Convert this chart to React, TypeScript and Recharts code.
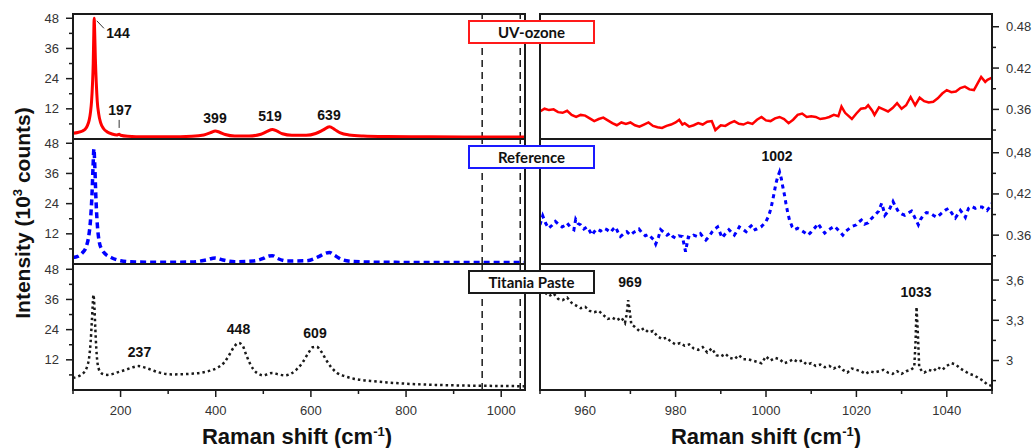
import { LineChart, Line, XAxis, YAxis, ReferenceLine } from "recharts";

// ---------------------------------------------------------------------------
// Spectra: [Raman shift (cm-1), intensity]
// full range in 10^3 counts, 950-1050 window in the same units rescaled
// ---------------------------------------------------------------------------

type Pair = [number, number];

const uvOzoneFull: Pair[] = [
  [100, 2.3], [110, 2.6], [120, 3.2], [126, 4.0], [130, 5.2], [134, 7.5], [137, 11],
  [139, 15], [141, 22], [142.5, 30], [143.5, 40], [144.5, 48], [145.5, 43], [147, 32],
  [149, 22], [151, 15], [154, 10], [158, 6.5], [164, 4.2], [172, 2.8], [182, 2.0],
  [192, 1.6], [197, 1.9], [200, 1.5], [215, 1.1], [250, 0.9], [300, 0.9], [350, 1.1],
  [375, 1.6], [390, 2.6], [399, 3.2], [408, 2.7], [420, 1.8], [440, 1.2], [470, 1.2],
  [495, 1.9], [508, 3.0], [519, 3.8], [528, 3.2], [540, 2.1], [560, 1.5], [590, 1.5],
  [610, 2.2], [625, 3.5], [639, 4.9], [650, 3.8], [662, 2.4], [680, 1.6], [710, 1.2],
  [760, 1.0], [850, 0.9], [950, 0.8], [1050, 0.8],
];

const referenceFull: Pair[] = [
  [100, 2.6], [110, 3.0], [120, 4.5], [128, 7], [133, 11], [137, 18], [140, 28],
  [142, 38], [144, 45.8], [146, 38], [148, 27], [151, 16], [155, 9], [160, 6],
  [168, 4], [180, 2.6], [200, 1.3], [230, 0.8], [300, 0.7], [350, 0.8], [380, 1.6],
  [399, 2.4], [415, 1.6], [440, 0.9], [480, 1.2], [500, 2.2], [512, 3.2], [519, 3.3],
  [530, 2.2], [550, 1.2], [590, 1.3], [615, 2.8], [630, 4.2], [639, 4.6], [650, 3.4],
  [665, 1.8], [690, 1.0], [750, 0.7], [850, 0.6], [950, 0.6], [1050, 0.6],
];

const titaniaFull: Pair[] = [
  [100, 4.8], [108, 5.2], [116, 5.9], [124, 7.2], [130, 9.5], [134, 13], [137, 19],
  [139.5, 27], [141.5, 34], [143, 37.9], [145, 33], [147, 24], [149, 16.5], [151, 11.5],
  [154, 8.5], [158, 7], [165, 6.2], [172, 6.0], [182, 6.3], [195, 7.1], [210, 8.0],
  [225, 9.0], [237, 9.5], [250, 9.0], [265, 8.0], [280, 7.0], [295, 6.4], [310, 6.2],
  [330, 6.3], [350, 6.5], [370, 6.9], [390, 7.8], [405, 9.0], [418, 11.0], [428, 13.8],
  [438, 17.0], [448, 18.7], [456, 17.8], [464, 14], [472, 10.5], [480, 8.0], [490, 6.4],
  [500, 5.8], [510, 6.4], [519, 6.8], [530, 6.3], [545, 5.8], [558, 6.5], [570, 8.2],
  [582, 10.8], [594, 14.5], [604, 17.0], [612, 17.2], [622, 15.2], [632, 12], [642, 9.2],
  [655, 6.8], [671, 5.5], [690, 4.5], [710, 3.9], [730, 3.5], [760, 3.0], [801, 2.5],
  [850, 2.1], [887, 1.9], [950, 1.7], [1000, 1.6], [1050, 1.5],
];

const uvOzoneZoom: Pair[] = [
  [950, 0.357], [951, 0.361], [952, 0.359], [953, 0.36], [954, 0.356], [955, 0.355],
  [956, 0.358], [957, 0.352], [958, 0.349], [959, 0.352], [960, 0.351], [961, 0.347],
  [962, 0.343], [963, 0.346], [964, 0.348], [965, 0.344], [966, 0.34], [967, 0.337],
  [968, 0.341], [969, 0.339], [970, 0.341], [971, 0.337], [972, 0.335], [973, 0.338],
  [974, 0.341], [975, 0.336], [976, 0.334], [977, 0.333], [978, 0.336], [979, 0.338],
  [980, 0.341], [980.8, 0.345], [981.5, 0.338], [982, 0.34], [983, 0.335], [984, 0.337],
  [985, 0.34], [986, 0.338], [987, 0.342], [988, 0.343], [988.8, 0.33], [989.5, 0.334],
  [990, 0.337], [991, 0.336], [992, 0.34], [993, 0.343], [994, 0.339], [995, 0.338],
  [996, 0.341], [997, 0.339], [998, 0.345], [999, 0.349], [1000, 0.344], [1001, 0.343],
  [1002, 0.347], [1003, 0.349], [1004, 0.346], [1005, 0.34], [1006, 0.345], [1007, 0.352],
  [1008, 0.354], [1009, 0.349], [1010, 0.35], [1011, 0.349], [1012, 0.346], [1013, 0.347],
  [1014, 0.349], [1015, 0.352], [1016, 0.35], [1016.7, 0.364], [1017.5, 0.355],
  [1018, 0.352], [1019, 0.346], [1020, 0.354], [1021, 0.361], [1022, 0.362],
  [1022.6, 0.366], [1023.5, 0.358], [1024, 0.352], [1025, 0.363], [1026, 0.36],
  [1027, 0.357], [1028, 0.362], [1029, 0.369], [1030, 0.361], [1031, 0.366], [1032, 0.378],
  [1033, 0.366], [1034, 0.377], [1035, 0.372], [1036, 0.37], [1037, 0.371], [1038, 0.376],
  [1039, 0.383], [1040, 0.388], [1041, 0.385], [1042, 0.386], [1043, 0.391], [1044, 0.393],
  [1045, 0.389], [1046, 0.388], [1047, 0.4], [1047.6, 0.407], [1048.5, 0.4], [1049, 0.403],
  [1050, 0.406],
];

const referenceZoom: Pair[] = [
  [950, 0.375], [950.6, 0.388], [951.2, 0.378], [951.9, 0.37], [952.6, 0.374], [953.4, 0.38],
  [954.1, 0.376], [954.9, 0.372], [955.5, 0.374], [956, 0.3775], [956.8, 0.371], [957.5, 0.368],
  [957.9, 0.383], [958.4, 0.377], [959, 0.375], [959.7, 0.369], [960.4, 0.372], [961, 0.366],
  [961.5, 0.36], [962, 0.365], [962.6, 0.369], [963.4, 0.366], [964.1, 0.37], [964.8, 0.368],
  [965.6, 0.364], [966.2, 0.369], [966.7, 0.372], [967.2, 0.365], [967.8, 0.358], [968.5, 0.362],
  [969.2, 0.365], [970, 0.36], [970.7, 0.364], [971.3, 0.366], [971.9, 0.369], [972.6, 0.363],
  [973.3, 0.359], [974, 0.361], [974.6, 0.357], [975.2, 0.353], [975.6, 0.347], [976.2, 0.357],
  [976.7, 0.368], [977.4, 0.364], [978.1, 0.36], [978.8, 0.363], [979.4, 0.358], [980, 0.3556],
  [980.7, 0.359], [981.5, 0.358], [982.2, 0.336], [982.8, 0.357], [983.3, 0.356], [984, 0.36],
  [984.8, 0.358], [985.5, 0.362], [986.1, 0.357], [986.7, 0.353], [987.4, 0.358], [988.1, 0.365],
  [988.7, 0.369], [989.3, 0.372], [989.8, 0.364], [990.3, 0.356], [991, 0.362], [991.8, 0.368],
  [992.4, 0.364], [993, 0.36], [993.6, 0.366], [994.1, 0.372], [994.8, 0.369], [995.6, 0.365],
  [996.3, 0.371], [997, 0.375], [997.6, 0.368], [998.3, 0.37], [998.9, 0.372], [999.5, 0.376],
  [1000, 0.38], [1000.6, 0.388], [1001.1, 0.399], [1001.7, 0.418], [1002.2, 0.4355],
  [1002.6, 0.445], [1003, 0.452], [1003.4, 0.442], [1003.7, 0.431], [1004.1, 0.418],
  [1004.4, 0.4065], [1004.8, 0.393], [1005.2, 0.382], [1005.8, 0.372], [1006.3, 0.368],
  [1007, 0.37], [1007.8, 0.367], [1008.5, 0.364], [1009.3, 0.36], [1009.9, 0.364],
  [1010.4, 0.368], [1011, 0.372], [1011.5, 0.377], [1012.2, 0.37], [1013, 0.363],
  [1013.7, 0.367], [1014.4, 0.37], [1015.2, 0.373], [1015.9, 0.368], [1016.5, 0.364],
  [1017, 0.36], [1017.7, 0.366], [1018.5, 0.37], [1019.2, 0.373], [1020, 0.375],
  [1020.5, 0.379], [1021.1, 0.382], [1021.8, 0.376], [1022.6, 0.378], [1023.3, 0.384],
  [1024.1, 0.389], [1024.9, 0.395], [1025.6, 0.4065], [1026, 0.397], [1026.3, 0.389],
  [1027.2, 0.396], [1028.1, 0.409], [1028.7, 0.401], [1029.3, 0.394], [1030, 0.391],
  [1030.7, 0.389], [1031.4, 0.392], [1032.2, 0.395], [1032.9, 0.386], [1033.7, 0.375],
  [1034.2, 0.383], [1034.8, 0.389], [1035.5, 0.393], [1036.3, 0.392], [1037, 0.389],
  [1037.8, 0.386], [1038.5, 0.39], [1039.2, 0.394], [1039.8, 0.397], [1040.4, 0.399],
  [1041.1, 0.392], [1041.9, 0.385], [1042.5, 0.391], [1043, 0.396], [1043.6, 0.391],
  [1044.1, 0.386], [1044.8, 0.399], [1045.5, 0.402], [1046.3, 0.399], [1047, 0.401],
  [1047.8, 0.401], [1048.4, 0.398], [1048.9, 0.396], [1049.5, 0.401], [1050, 0.4065],
];

const titaniaZoom: Pair[] = [
  [950, 3.52], [951, 3.51], [952, 3.48], [953, 3.5], [954, 3.46], [955, 3.45], [956, 3.47],
  [957, 3.43], [958, 3.41], [959, 3.39], [960, 3.4], [961, 3.37], [962, 3.36], [963, 3.37],
  [964, 3.34], [965, 3.31], [966, 3.32], [967, 3.3], [968, 3.32], [968.8, 3.28], [969.2, 3.35],
  [969.5, 3.45], [969.8, 3.38], [970.2, 3.27], [971, 3.25], [972, 3.22], [973, 3.24],
  [974, 3.21], [975, 3.22], [976, 3.18], [977, 3.16], [978, 3.17], [979, 3.14], [980, 3.12],
  [981, 3.13], [982, 3.11], [983, 3.12], [984, 3.09], [985, 3.08], [986, 3.1], [987, 3.06],
  [988, 3.09], [989, 3.04], [990, 3.03], [991, 3.05], [992, 3.02], [993, 3.01], [994, 3.04],
  [995, 3.01], [996, 3.01], [997, 3.0], [998, 2.99], [999, 2.98], [1000, 3.03], [1001, 3.0],
  [1002, 3.02], [1003, 3.01], [1004, 2.98], [1005, 2.99], [1006, 3.01], [1007, 2.99],
  [1008, 3.0], [1009, 2.97], [1010, 2.98], [1011, 2.96], [1012, 2.97], [1013, 2.95],
  [1014, 2.96], [1015, 2.94], [1016, 2.96], [1017, 2.93], [1018, 2.91], [1019, 2.94],
  [1020, 2.93], [1021, 2.92], [1022, 2.9], [1023, 2.92], [1024, 2.91], [1025, 2.92],
  [1026, 2.93], [1027, 2.91], [1028, 2.9], [1029, 2.92], [1030, 2.9], [1031, 2.92],
  [1032, 2.93], [1032.8, 2.95], [1033.1, 3.15], [1033.3, 3.4], [1033.6, 3.2], [1033.9, 2.95],
  [1034.5, 2.92], [1035, 2.91], [1036, 2.93], [1037, 2.92], [1038, 2.95], [1039, 2.93],
  [1040, 2.96], [1041, 2.98], [1042, 2.97], [1043, 2.94], [1044, 2.92], [1045, 2.9],
  [1046, 2.89], [1047, 2.87], [1048, 2.85], [1049, 2.82], [1050, 2.81],
];

// axis ranges and ticks
const fullDomain: [number, number] = [100, 1050];
const zoomDomain: [number, number] = [950, 1050];
const fullBottomTicks = [100, 200, 300, 400, 500, 600, 700, 800, 900, 1000];
const fullLabelTicks = [200, 400, 600, 800, 1000];
const fullTopTicks = [300, 500, 600, 700, 800, 900, 1000];
const zoomBottomTicks = [950, 960, 970, 980, 990, 1000, 1010, 1020, 1030, 1040, 1050];
const zoomLabelTicks = [960, 980, 1000, 1020, 1040];
const zoomTopTicks = [960, 980, 1000, 1010, 1020, 1040];
const countTicks = [6, 12, 18, 24, 30, 36, 42, 48];
const countLabels: Record<string, string> = { "12": "12", "24": "24", "36": "36", "48": "48" };
const windowEdges = [960, 1040];

const uvZoomTicks = [0.33, 0.36, 0.39, 0.42, 0.45, 0.48];
const uvZoomLabels: Record<string, string> = { "0.36": "0.36", "0.42": "0.42", "0.48": "0.48" };
const refZoomTicks = [0.33, 0.36, 0.39, 0.42, 0.45, 0.48];
const refZoomLabels: Record<string, string> = { "0.36": "0.36", "0.42": "0,42", "0.48": "0,48" };
const titaniaZoomTicks = [2.85, 3, 3.15, 3.3, 3.45, 3.6];
const titaniaZoomLabels: Record<string, string> = { "3": "3", "3.3": "3,3", "3.6": "3,6" };

// ---------------------------------------------------------------------------
// Layout
// ---------------------------------------------------------------------------

const ROWS = [
  { top: 14, bottom: 139 },
  { top: 139, bottom: 264 },
  { top: 264, bottom: 390 },
];
const PAD = 12;
const AXIS_H = 40;
const INK = "#1a1a1a";
const TICK_FONT = "'Liberation Sans', Arial, sans-serif";

const yTick = (axisX: number, dir: number, labels: Record<string, string>) =>
  (props: any) => {
    const { y, payload } = props;
    const label = labels[String(payload.value)];
    const len = label !== undefined ? 7 : 4;
    return (
      <g>
        <line x1={axisX} x2={axisX + dir * len} y1={y} y2={y} stroke={INK} strokeWidth={1.5} />
        {label !== undefined && (
          <text
            x={axisX + dir * 14}
            y={y}
            dy={4.5}
            textAnchor={dir < 0 ? "end" : "start"}
            fontSize={13}
            fontFamily={TICK_FONT}
            fill="#333"
          >
            {label}
          </text>
        )}
      </g>
    );
  };

const bottomTick = (axisY: number, labelled: number[]) => (props: any) => {
  const { x, payload } = props;
  const major = labelled.includes(payload.value);
  return (
    <g>
      <line x1={x} x2={x} y1={axisY} y2={axisY + (major ? 7 : 4)} stroke={INK} strokeWidth={1.5} />
      {major && (
        <text x={x} y={axisY + 24.5} textAnchor="middle" fontSize={13} fontFamily={TICK_FONT} fill="#333">
          {payload.value}
        </text>
      )}
    </g>
  );
};

const topTick = (axisY: number) => (props: any) => {
  const { x } = props;
  return <line x1={x} x2={x} y1={axisY} y2={axisY + 6} stroke={INK} strokeWidth={1.5} />;
};

interface PanelProps {
  zoom?: boolean;
  row: number;
  data: Pair[];
  yDomain: [number, number];
  yTicks: number[];
  yLabels: Record<string, string>;
  stroke: string;
  strokeWidth: number;
  dash?: string;
  curve: "monotone" | "linear";
  segments?: [Pair, Pair][];
}

function Panel(p: PanelProps) {
  const r = ROWS[p.row];
  const h = r.bottom - r.top;
  const last = p.row === 2;
  const full = !p.zoom;
  const width = full ? 540 : 503;
  const axisX = full ? 73 : 462;
  const height = PAD + h + (last ? AXIS_H : PAD);
  const points = p.data.map(([x, y]) => ({ x, y }));
  const xDomain = full ? fullDomain : zoomDomain;

  return (
    <div style={{ position: "absolute", left: full ? 0 : 530, top: r.top - PAD }}>
      <LineChart
        width={width}
        height={height}
        data={points}
        margin={{ top: PAD, right: full ? 15 : 0, bottom: last ? 0 : PAD, left: full ? 0 : 10 }}
      >
        <XAxis
          type="number"
          dataKey="x"
          domain={xDomain}
          allowDataOverflow
          hide={!last}
          height={AXIS_H}
          ticks={full ? fullBottomTicks : zoomBottomTicks}
          interval={0}
          axisLine={false}
          tickLine={false}
          tick={bottomTick(PAD + h, full ? fullLabelTicks : zoomLabelTicks)}
        />
        {p.row === 0 && (
          <XAxis
            xAxisId="top"
            orientation="top"
            type="number"
            domain={xDomain}
            allowDataOverflow
            mirror
            ticks={full ? fullTopTicks : zoomTopTicks}
            interval={0}
            axisLine={false}
            tickLine={false}
            tick={topTick(PAD)}
          />
        )}
        <YAxis
          type="number"
          domain={p.yDomain}
          allowDataOverflow
          orientation={full ? "left" : "right"}
          width={full ? 73 : 41}
          ticks={p.yTicks}
          interval={0}
          axisLine={false}
          tickLine={false}
          tick={yTick(axisX, full ? -1 : 1, p.yLabels)}
        />
        {full &&
          windowEdges.map((x) => (
            <ReferenceLine key={x} x={x} stroke={INK} strokeWidth={1.5} strokeDasharray="7 5" />
          ))}
        {(p.segments ?? []).map((s, i) => (
          <ReferenceLine
            key={`seg-${i}`}
            segment={[{ x: s[0][0], y: s[0][1] }, { x: s[1][0], y: s[1][1] }]}
            stroke="#333"
            strokeWidth={1}
          />
        ))}
        <Line
          type={p.curve}
          dataKey="y"
          stroke={p.stroke}
          strokeWidth={p.strokeWidth}
          strokeDasharray={p.dash}
          dot={false}
          isAnimationActive={false}
        />
      </LineChart>
    </div>
  );
}

// ---------------------------------------------------------------------------
// Annotations
// ---------------------------------------------------------------------------

const peakLabels = [
  { text: "144", left: 118, top: 33 },
  { text: "197", left: 120, top: 110 },
  { text: "399", left: 215, top: 117.5 },
  { text: "519", left: 270, top: 116 },
  { text: "639", left: 329, top: 115 },
  { text: "1002", left: 777, top: 156 },
  { text: "237", left: 139.5, top: 351.5 },
  { text: "448", left: 238.5, top: 329 },
  { text: "609", left: 315, top: 332.5 },
  { text: "969", left: 630, top: 281.5 },
  { text: "1033", left: 916, top: 291.5 },
];

const sampleBoxes = [
  { text: "UV-ozone", top: 20, color: "#ff1a1a" },
  { text: "Reference", top: 145, color: "#1a1aff" },
  { text: "Titania Paste", top: 270, color: INK },
];

const abs = (left: number, top: number): React.CSSProperties => ({
  position: "absolute",
  left,
  top,
  transform: "translate(-50%, -50%)",
  whiteSpace: "nowrap",
});

export default function App() {
  return (
    <div
      style={{
        position: "absolute",
        left: 0,
        top: 0,
        width: 1033,
        height: 448,
        background: "#fff",
        overflow: "hidden",
        fontFamily: TICK_FONT,
      }}
    >
      <Panel
        row={0}
        data={uvOzoneFull}
        yDomain={[0, 49.7]}
        yTicks={countTicks}
        yLabels={countLabels}
        stroke="#ff0000"
        strokeWidth={3}
        curve="monotone"
        segments={[
          [[150, 47], [165, 44]],
          [[197, 7.6], [197, 4.4]],
        ]}
      />
      <Panel
        row={1}
        data={referenceFull}
        yDomain={[0, 49.7]}
        yTicks={countTicks}
        yLabels={countLabels}
        stroke="#0000ff"
        strokeWidth={3.5}
        dash="6 4"
        curve="monotone"
      />
      <Panel
        row={2}
        data={titaniaFull}
        yDomain={[0, 50.1]}
        yTicks={countTicks}
        yLabels={countLabels}
        stroke={INK}
        strokeWidth={2.5}
        dash="2.5 3"
        curve="monotone"
      />
      <Panel
        zoom
        row={0}
        data={uvOzoneZoom}
        yDomain={[0.317, 0.4985]}
        yTicks={uvZoomTicks}
        yLabels={uvZoomLabels}
        stroke="#ff0000"
        strokeWidth={2.5}
        curve="linear"
      />
      <Panel
        zoom
        row={1}
        data={referenceZoom}
        yDomain={[0.318, 0.5]}
        yTicks={refZoomTicks}
        yLabels={refZoomLabels}
        stroke="#0000ff"
        strokeWidth={3}
        dash="4 4"
        curve="linear"
      />
      <Panel
        zoom
        row={2}
        data={titaniaZoom}
        yDomain={[2.78, 3.72]}
        yTicks={titaniaZoomTicks}
        yLabels={titaniaZoomLabels}
        stroke={INK}
        strokeWidth={2.5}
        dash="2.5 3"
        curve="linear"
      />

      {/* panel frames */}
      {[72, 539].map((left) => (
        <div key={left}>
          <div
            style={{
              position: "absolute",
              left,
              top: 13,
              width: 454,
              height: 378,
              border: `2px solid ${INK}`,
              boxSizing: "border-box",
            }}
          />
          {[138, 263].map((top) => (
            <div
              key={top}
              style={{ position: "absolute", left, top, width: 454, height: 2, background: INK }}
            />
          ))}
        </div>
      ))}

      {peakLabels.map((l) => (
        <div key={l.text} style={{ ...abs(l.left, l.top), fontSize: 14, fontWeight: 700, color: "#111" }}>
          {l.text}
        </div>
      ))}

      {sampleBoxes.map((b) => (
        <div
          key={b.text}
          style={{
            position: "absolute",
            left: 468,
            top: b.top,
            width: 127,
            height: 24,
            border: `2px solid ${b.color}`,
            boxSizing: "border-box",
            background: "#fff",
            display: "flex",
            alignItems: "center",
            justifyContent: "center",
            fontFamily: "Lato, 'Open Sans', sans-serif",
            fontWeight: 700,
            fontSize: 15,
            color: "#111",
          }}
        >
          {b.text}
        </div>
      ))}

      <div style={{ ...abs(22, 213), transform: "translate(-50%, -50%) rotate(-90deg)", fontSize: 21, fontWeight: 700, color: "#111" }}>
        Intensity (10<sup style={{ fontSize: 13 }}>3</sup> counts)
      </div>
      {[297, 766].map((x) => (
        <div key={x} style={{ ...abs(x, 437), fontSize: 22, fontWeight: 700, color: "#111" }}>
          Raman shift (cm<sup style={{ fontSize: 13 }}>-1</sup>)
        </div>
      ))}
    </div>
  );
}
